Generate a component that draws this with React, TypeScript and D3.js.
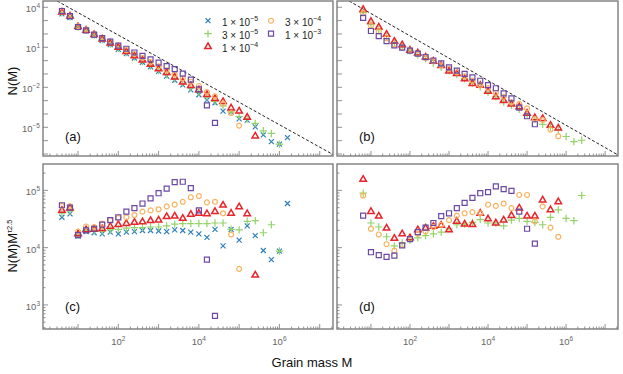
import React, { useEffect, useRef } from 'react';
import * as d3 from 'd3';

// compensation exponent used for the lower panels, N(M) = comp / M^TAU
const TAU = 1.7;

// bin centres, log10 of grain mass
const binsLeft = [0.6, 0.8, 1.0, 1.2, 1.4, 1.6, 1.8, 2.0, 2.2, 2.4, 2.6, 2.8, 3.0, 3.2, 3.4, 3.6, 3.8, 4.0, 4.2, 4.4, 4.6, 4.8, 5.0, 5.2, 5.4, 5.6, 5.8, 6.0, 6.2];
const binsRight = [0.8, 1.0, 1.2, 1.4, 1.6, 1.8, 2.0, 2.2, 2.4, 2.6, 2.8, 3.0, 3.2, 3.4, 3.6, 3.8, 4.0, 4.2, 4.4, 4.6, 4.8, 5.0, 5.2, 5.4, 5.6, 5.8, 6.0, 6.2, 6.4];

// log10 of N(M) M^tau, left column (panels a / c)
const compLeft1e5 = [4.53, 4.59, 4.20, 4.28, 4.26, 4.24, 4.27, 4.24, 4.27, 4.28, 4.30, 4.30, 4.29, 4.28, 4.31, 4.30, 4.27, 4.24, 4.18, 4.32, 4.03, 4.32, 4.13, 4.38, 4.21, 3.95, 3.79, 3.94, 4.77];
const compLeft3e5 = [4.60, 4.64, 4.22, 4.31, 4.30, 4.29, 4.31, 4.32, 4.34, 4.35, 4.35, 4.36, 4.36, 4.38, 4.41, 4.42, 4.42, 4.42, 4.42, 4.43, 4.43, 4.32, 4.31, 4.46, 4.47, 4.26, 4.40, 3.94];
const compLeft1e4 = [4.65, 4.69, 4.24, 4.31, 4.32, 4.33, 4.37, 4.40, 4.42, 4.44, 4.45, 4.47, 4.48, 4.54, 4.55, 4.51, 4.58, 4.60, 4.59, 4.63, 4.74, 4.60, 4.71, 4.59, 3.52];
const compLeft3e4 = [4.73, 4.72, 4.28, 4.37, 4.36, 4.42, 4.48, 4.52, 4.53, 4.57, 4.63, 4.65, 4.67, 4.72, 4.75, 4.80, 4.88, 4.90, 4.79, 4.80, 4.60, 4.23, 3.63];
const compLeft1e3 = [4.74, 4.70, 4.22, 4.30, 4.33, 4.40, 4.48, 4.53, 4.63, 4.69, 4.77, 4.86, 4.95, 5.03, 5.145, 5.15, 5.04, 4.65, 3.79, 2.81];

// right column (panels b / d)
const compRight3e5 = [4.95, 4.43, 4.36, 4.19, 4.03, 4.08, 4.13, 4.17, 4.21, 4.24, 4.27, 4.33, 4.40, 4.41, 4.44, 4.49, 4.43, 4.43, 4.38, 4.48, 4.51, 4.46, 4.44, 4.40, 4.53, 4.66, 4.51, 4.47, 4.91];
const compRight1e4 = [5.19, 4.63, 4.55, 4.34, 4.16, 4.24, 4.17, 4.31, 4.34, 4.37, 4.39, 4.31, 4.46, 4.41, 4.40, 4.60, 4.50, 4.43, 4.48, 4.56, 4.69, 4.55, 4.55, 4.83, 4.66, 4.80];
const compRight3e4 = [4.91, 4.33, 4.23, 4.06, 3.95, 4.05, 4.15, 4.24, 4.28, 4.36, 4.40, 4.48, 4.56, 4.60, 4.62, 4.60, 4.75, 4.73, 4.77, 4.69, 4.92, 4.92, 4.46, 4.72, 4.35, 4.19];
const compRight1e3 = [4.56, 3.92, 3.87, 3.84, 3.86, 4.04, 4.15, 4.27, 4.35, 4.43, 4.55, 4.60, 4.69, 4.78, 4.87, 4.95, 4.97, 5.07, 5.02, 4.99, 4.63, 4.33, 4.07];

// dashed guide line, [log10 M, log10 N]
const guideLeft = [[0.48, 4.47], [7.33, -7.04]];
const guideRight = [[0.44, 4.47], [7.31, -7.04]];

const seriesNames = ['1e-5', '3e-5', '1e-4', '3e-4', '1e-3'];
const legendMantissa = ['1', '3', '1', '3', '1'];
const legendExponent = ['\u22125', '\u22125', '\u22124', '\u22124', '\u22123'];
const seriesColors = ['#2f7fbd', '#93d36a', '#e8252b', '#f9b25e', '#6b48a5'];

const xTickLabels = [2, 4, 6];
const yTickLabelsTop = [4, 1, -2, -5];
const yTickLabelsBottom = [5, 4, 3];

const font = 'Liberation Sans, Arial, Helvetica, sans-serif';

export default function App() {
    const svgRef = useRef<SVGSVGElement>(null);

    useEffect(() => {
        const svg = d3.select(svgRef.current);
        svg.selectAll('*').remove();

        const shapes = [
            d3.symbol(d3.symbolTimes, 18),
            d3.symbol(d3.symbolPlus, 20),
            d3.symbol(d3.symbolTriangle2, 30),
            d3.symbol(d3.symbolCircle, 19),
            d3.symbol(d3.symbolSquare2, 32),
        ];

        const xDomain = [Math.pow(10, 0.13), Math.pow(10, 7.33)];
        const cols = [
            {x: d3.scaleLog().domain(xDomain).range([43, 333]), bins: binsLeft, guide: guideLeft,
                data: [compLeft1e5, compLeft3e5, compLeft1e4, compLeft3e4, compLeft1e3]},
            {x: d3.scaleLog().domain(xDomain).range([337, 618]), bins: binsRight, guide: guideRight,
                data: [null, compRight3e5, compRight1e4, compRight3e4, compRight1e3]},
        ];
        const rows = [
            {y: d3.scaleLog().domain([Math.pow(10, -7.15), Math.pow(10, 4.47)]).range([156, 1]), top: true},
            {y: d3.scaleLog().domain([Math.pow(10, 2.58), Math.pow(10, 5.46)]).range([329, 164]), top: false},
        ];
        const panelNames = [['(a)', '(b)'], ['(c)', '(d)']];

        rows.forEach((row, ri) => {
            cols.forEach((col, ci) => {
                const [x0, x1] = col.x.range();
                const [y1, y0] = row.y.range();
                const g = svg.append('g');
                const clipId = `clip-${ri}-${ci}`;
                g.append('clipPath').attr('id', clipId)
                    .append('rect').attr('x', x0).attr('y', y0).attr('width', x1 - x0).attr('height', y1 - y0);

                // x ticks (inside, along bottom)
                col.x.ticks().forEach(t => {
                    const major = Math.abs(Math.log10(t) - Math.round(Math.log10(t))) < 1e-9;
                    g.append('line')
                        .attr('x1', col.x(t)).attr('x2', col.x(t))
                        .attr('y1', y1).attr('y2', y1 - (major ? 5 : 2.5))
                        .attr('stroke', '#777').attr('stroke-width', 0.8);
                });
                // y ticks (inside, along left)
                row.y.ticks().forEach(t => {
                    const major = row.top || Math.abs(Math.log10(t) - Math.round(Math.log10(t))) < 1e-9;
                    g.append('line')
                        .attr('x1', x0).attr('x2', x0 + (major ? 5 : 2.5))
                        .attr('y1', row.y(t)).attr('y2', row.y(t))
                        .attr('stroke', '#777').attr('stroke-width', 0.8);
                });

                if (row.top) {
                    const line = d3.line<number[]>()
                        .x(d => col.x(Math.pow(10, d[0])))
                        .y(d => row.y(Math.pow(10, d[1])));
                    g.append('path')
                        .datum(col.guide)
                        .attr('clip-path', `url(#${clipId})`)
                        .attr('fill', 'none')
                        .attr('stroke', '#222')
                        .attr('stroke-width', 1)
                        .attr('stroke-dasharray', '3,2')
                        .attr('d', line);
                }

                col.data.forEach((vals, si) => {
                    if (!vals) return;
                    const pts = vals.map((v, i) => {
                        const lm = col.bins[i];
                        return [col.x(Math.pow(10, lm)), row.y(Math.pow(10, row.top ? v - TAU * lm : v))];
                    });
                    g.selectAll(`.pt-${si}`)
                        .data(pts)
                        .enter()
                        .append('path')
                        .attr('transform', d => `translate(${d[0]},${d[1]})`)
                        .attr('d', shapes[si]())
                        .attr('fill', 'none')
                        .attr('stroke', seriesColors[si])
                        .attr('stroke-width', si === 2 ? 1.5 : 1.2);
                });

                g.append('rect')
                    .attr('x', x0).attr('y', y0).attr('width', x1 - x0).attr('height', y1 - y0)
                    .attr('fill', 'none').attr('stroke', '#7d7d7d').attr('stroke-width', 1.4);

                g.append('text')
                    .attr('x', x0 + 22).attr('y', row.top ? 141 : 311)
                    .attr('font-family', font).attr('font-size', 13).attr('fill', '#111')
                    .text(panelNames[ri][ci]);

                // tick labels
                if (ci === 0) {
                    const labels = row.top ? yTickLabelsTop : yTickLabelsBottom;
                    labels.forEach(e => {
                        const t = g.append('text')
                            .attr('x', 40).attr('y', row.y(Math.pow(10, e)) + 5)
                            .attr('text-anchor', 'end')
                            .attr('font-family', font).attr('font-size', 9.5).attr('fill', '#666');
                        t.append('tspan').text('10');
                        t.append('tspan').attr('dy', -4).attr('font-size', 6.5)
                            .text(e < 0 ? `\u2212${-e}` : `${e}`);
                    });
                }
                if (!row.top) {
                    xTickLabels.forEach(e => {
                        const t = g.append('text')
                            .attr('x', col.x(Math.pow(10, e))).attr('y', 345)
                            .attr('text-anchor', 'middle')
                            .attr('font-family', font).attr('font-size', 9.5).attr('fill', '#666');
                        t.append('tspan').text('10');
                        t.append('tspan').attr('dy', -4).attr('font-size', 6.5).text(`${e}`);
                    });
                }
            });
        });

        // legend in panel (a)
        const legend = svg.append('g');
        seriesNames.forEach((name, i) => {
            const col = i < 3 ? 0 : 1;
            const r = i < 3 ? i : i - 3;
            const mx = col === 0 ? 208 : 271;
            const my = 20.7 + r * 13;
            legend.append('path')
                .attr('transform', `translate(${mx},${my})`)
                .attr('d', shapes[i]())
                .attr('fill', 'none')
                .attr('stroke', seriesColors[i])
                .attr('stroke-width', i === 2 ? 1.5 : 1.2);
            const t = legend.append('text')
                .attr('x', mx + 14).attr('y', my + 5)
                .attr('font-family', font).attr('font-size', 10).attr('fill', '#222');
            t.append('tspan').text(`${legendMantissa[i]} \u00d7 10`);
            t.append('tspan').attr('dy', -4.5).attr('font-size', 7).text(legendExponent[i]);
        });

        // axis titles
        svg.append('text')
            .attr('transform', 'translate(16.5,81) rotate(-90)')
            .attr('text-anchor', 'middle')
            .attr('font-family', font).attr('font-size', 13).attr('fill', '#111')
            .text('N(M)');
        const yt = svg.append('text')
            .attr('transform', 'translate(16.5,246) rotate(-90)')
            .attr('text-anchor', 'middle')
            .attr('font-family', font).attr('font-size', 13).attr('fill', '#111');
        yt.append('tspan').text('N(M)M');
        yt.append('tspan').attr('dy', -5).attr('font-size', 7.5).text('\u03c42.5');

        svg.append('text')
            .attr('x', 312).attr('y', 367)
            .attr('text-anchor', 'middle')
            .attr('font-family', font).attr('font-size', 13).attr('fill', '#111')
            .text('Grain mass M');
    }, []);

    return (
        <svg ref={svgRef} width={623} height={374}
             style={{position: 'absolute', left: 0, top: 0, background: '#fff'}}></svg>
    );
}
